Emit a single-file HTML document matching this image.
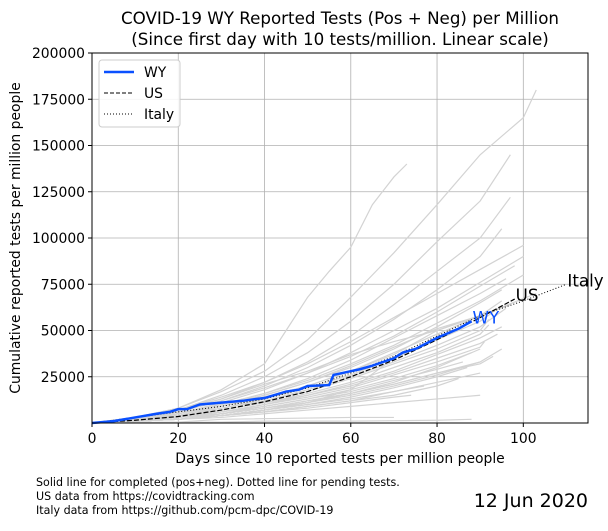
<!DOCTYPE html>
<html><head><meta charset="utf-8"><style>
body{margin:0;background:#fff;width:608px;height:526px;overflow:hidden;font-family:"Liberation Sans","DejaVu Sans",sans-serif}
</style></head><body>
<svg id="chart" width="608" height="526" xmlns="http://www.w3.org/2000/svg" font-family="'DejaVu Sans','Liberation Sans',sans-serif">
<g id="grid"></g>
<g id="gray"></g>
<g id="main"></g>
<rect x="92" y="53" width="496" height="370" fill="none" stroke="#000" stroke-width="1"/>
<g id="ticks" font-size="13.9"></g>
<text x="340" y="24" font-size="16.7" text-anchor="middle">COVID-19 WY Reported Tests (Pos + Neg) per Million</text>
<text x="340" y="45" font-size="16.7" text-anchor="middle">(Since first day with 10 tests/million. Linear scale)</text>
<text x="340" y="463" font-size="13.9" text-anchor="middle">Days since 10 reported tests per million people</text>
<text transform="translate(20,238) rotate(-90)" font-size="13.9" text-anchor="middle">Cumulative reported tests per million people</text>
<g>
<rect x="99" y="60" width="81" height="67" rx="3" fill="#fff" fill-opacity="0.85" stroke="#ccc"/>
<line x1="104" y1="72" x2="134" y2="72" stroke="#0a50ff" stroke-width="2.5"/>
<text x="144" y="77" font-size="13.9">WY</text>
<line x1="104" y1="93" x2="134" y2="93" stroke="#000" stroke-dasharray="4,2" stroke-width="1"/>
<text x="144" y="98" font-size="13.9">US</text>
<line x1="104" y1="114" x2="134" y2="114" stroke="#000" stroke-dasharray="1,2" stroke-width="1"/>
<text x="144" y="119" font-size="13.9">Italy</text>
</g>
<g font-size="11.1">
<text x="36" y="486">Solid line for completed (pos+neg). Dotted line for pending tests.</text>
<text x="36" y="500">US data from https://covidtracking.com</text>
<text x="36" y="514">Italy data from https://github.com/pcm-dpc/COVID-19</text>
</g>
<text x="588" y="507" font-size="19" text-anchor="end">12 Jun 2020</text>
</svg>
<script>
// values in thousands of tests per million; grayDays[i] gives sampled days for grayVals[i]
const xTicks=[0,20,40,60,80,100];
const yTicks=[25000,50000,75000,100000,125000,150000,175000,200000];
const grayDays=[
[0,10,20,30,40,45,50,55,60,65,70,73],
[0,10,20,30,40,50,60,70,80,90,100,103],
[0,10,20,30,40,50,60,70,80,90,97],
[0,10,20,30,40,50,60,70,80,90,97],
[0,10,20,30,40,50,60,70,80,90,95],
[0,10,20,30,40,50,60,70,80,90,100],
[0,10,20,30,40,50,60,70,80,90,100],
[0,10,20,30,40,50,60,70,80,90,98],
[0,10,20,30,40,50,60,70,80,90,96],
[0,10,20,30,40,50,60,70,80,90,100],
[0,10,20,30,40,50,60,70,80,90,95],
[0,10,20,30,40,50,60,70,80,90,103],
[0,10,20,30,40,50,60,70,80,90,95],
[0,10,20,30,40,50,60,70,80,90,93],
[0,10,20,30,40,50,60,70,80,90,96],
[0,10,20,30,40,50,60,70,80,90,92],
[0,10,20,30,40,50,60,70,80,90,92],
[0,10,20,30,40,50,60,70,80,90,95],
[0,10,20,30,40,50,60,70,80,90,94],
[0,10,20,30,40,50,60,70,80,90,91],
[0,10,20,30,40,50,60,70,80,88],
[0,10,20,30,40,50,60,70,80,86],
[0,10,20,30,40,50,60,70,80,90],
[0,10,20,30,40,50,60,70,80,90,93],
[0,10,20,30,40,50,60,70,80,90,95],
[0,10,20,30,40,50,60,70,80,87],
[0,10,20,30,40,50,60,70,80,90],
[0,10,20,30,40,50,60,70,77],
[0,10,20,30,40,50,60,70,80,90],
[0,10,20,30,40,50,60,70,80,85],
[0,10,20,30,40,50,60,70,74],
[0,10,20,30,40,50,60,70,80,86],
[0,10,20,30,40,50,60,70,73],
[0,10,20,30,40,50,60,70,80,90],
[0,10,20,30,40,50,60,70,80,90,97]
];
const grayVals=[
[0,3,8,18,32,50,68,82,95,118,133,140],
[0,3,8,17,28,45,68,92,118,145,165,180],
[0,3,7,15,25,38,55,75,98,120,145],
[0,3,6,13,22,33,47,64,82,100,122],
[0,2,6,12,20,30,42,56,72,90,105],
[0,3,7,14,22,32,44,57,70,83,96],
[0,2,5,11,18,27,38,50,62,76,90],
[0,2,6,12,19,27,36,47,60,74,85],
[0,2,5,10,16,24,34,46,58,70,78],
[0,2,5,10,16,23,32,42,54,66,80],
[0,2,5,10,15,22,30,40,52,65,72],
[0,2,4,9,14,20,28,38,48,58,70],
[0,2,4,9,14,20,28,37,50,58,66],
[0,2,4,8,13,19,26,35,45,55,60],
[0,2,4,8,12,18,25,33,42,52,62],
[0,2,4,8,12,17,24,32,40,50,56],
[0,2,4,7,11,16,22,30,38,48,53],
[0,2,3,7,11,15,21,28,37,46,52],
[0,1,3,6,10,15,20,27,35,43,48],
[0,1,3,6,10,14,19,26,33,41,44],
[0,1,3,6,9,13,18,24,31,38],
[0,1,3,5,9,13,17,23,29,33],
[0,1,3,5,8,12,16,21,27,33],
[0,1,2,5,8,12,16,21,27,32,36],
[0,1,2,5,8,11,15,20,26,33,40],
[0,1,2,4,7,10,14,19,25,30],
[0,1,2,4,7,10,13,17,22,27],
[0,1,2,4,6,9,12,17,20],
[0,1,2,4,7,11,16,22,30,40],
[0,1,2,4,6,9,12,15,20,24],
[0,1,2,4,6,8,11,14,15],
[0,3,7,13,21,28,37,44,50,55],
[0,1,2,4,7,11,18,35,40],
[0,1,2,3,5,7,9,11,13,15],
[0,2,5,9,15,22,31,41,51,58,64]
];
const flatDays=[[0,20,30,60,70],[0,30,40,60,80,88]];
const flatVals=[[0,0.5,2,3,3],[0,0.5,1,1,1.5,2]];
const wyDays=[0,5,10,15,18,20,22,25,30,35,38,40,45,48,50,55,56,60,62,65,70,72,75,80,85,88];
const wyVals=[0,1,3,5,6,7.5,7.5,10,11,12,13,13.5,17,18,20,20.5,26,28,29,31,35,38,40,46,51,55];
const usDays=[0,10,20,30,40,50,60,70,80,90,98];
const usVals=[0,1.5,3.5,7,11.5,17,25,34,45,57,67];
const itDays=[0,10,20,30,40,50,60,70,80,90,100,110];
const itVals=[0,3,6,9,13,19,27,36,47,58,66,75];

const NS='http://www.w3.org/2000/svg';
const xS=d=>92+d*(496/115);
const yS=v=>423-v*(370/200000);
function mk(tag,attrs,parent){const e=document.createElementNS(NS,tag);for(const k in attrs)e.setAttribute(k,attrs[k]);parent.appendChild(e);return e;}
const grid=document.getElementById('grid'),ticks=document.getElementById('ticks');
xTicks.forEach(t=>{
  const l=mk('line',{x1:xS(t),x2:xS(t),y1:53,y2:423,stroke:'#b0b0b0','stroke-width':0.8},grid);
  
  
  const tk=mk('line',{x1:xS(t),x2:xS(t),y1:423,y2:427,stroke:'#000'},ticks);
  
  
  const tx=mk('text',{x:xS(t),y:443,'text-anchor':'middle'},ticks);tx.textContent=t;
  
  
});
yTicks.forEach(t=>{
  const l=mk('line',{x1:92,x2:588,y1:yS(t),y2:yS(t),stroke:'#b0b0b0','stroke-width':0.8},grid);
  
  
  const tk=mk('line',{x1:88,x2:92,y1:yS(t),y2:yS(t),stroke:'#000'},ticks);
  
  
  const tx=mk('text',{x:85,y:yS(t)+5,'text-anchor':'end'},ticks);tx.textContent=t;
  
  
});
const pts=(ds,vs,scale)=>ds.map((d,i)=>xS(d)+','+yS(vs[i]*scale)).join(' ');
const gray=document.getElementById('gray');
grayDays.concat(flatDays).forEach((ds,i)=>{
  const vs=i<grayDays.length?grayVals[i]:flatVals[i-grayDays.length];
  const p=mk('polyline',{points:pts(ds,vs,1000),fill:'none',stroke:'#d3d3d3','stroke-width':1.2},gray);
  
  
});
const main=document.getElementById('main');
const it=mk('polyline',{points:pts(itDays,itVals,1000),fill:'none',stroke:'#000','stroke-width':1,'stroke-dasharray':'1,2'},main);


const us=mk('polyline',{points:pts(usDays,usVals,1000),fill:'none',stroke:'#000','stroke-width':1.2,'stroke-dasharray':'5,2'},main);


const wy=mk('polyline',{points:pts(wyDays,wyVals,1000),fill:'none',stroke:'#0a50ff','stroke-width':2.5},main);


function lab(txt,d,v,col,name){const t=mk('text',{x:xS(d)+1,y:yS(v*1000)+2,'font-size':16.7,fill:col},main);t.textContent=txt;
  
  }
lab('WY',wyDays[wyDays.length-1],wyVals[wyVals.length-1],'#0a50ff','wy-end-label');
lab('US',usDays[usDays.length-1],usVals[usVals.length-1],'#000','us-end-label');
lab('Italy',itDays[itDays.length-1],itVals[itVals.length-1],'#000','italy-end-label');
</script>
</body></html>
